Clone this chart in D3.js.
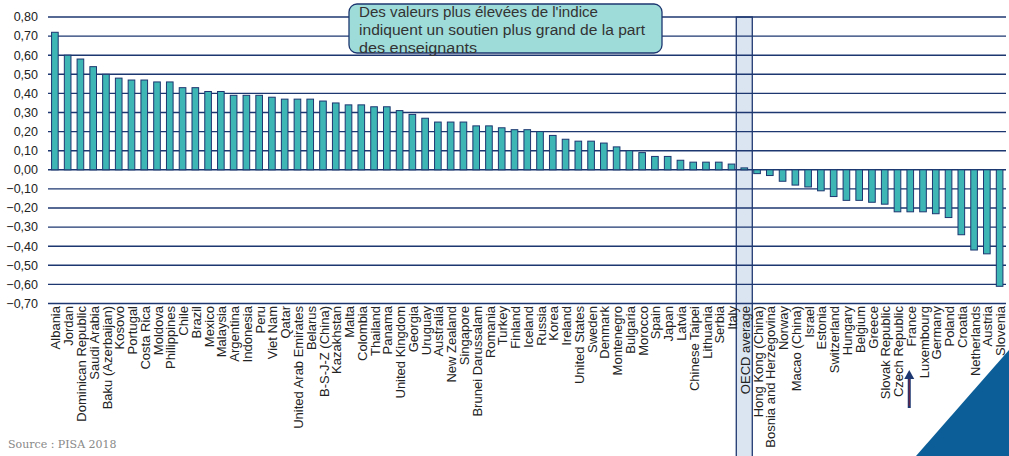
<!DOCTYPE html>
<html><head><meta charset="utf-8">
<script src="https://cdn.jsdelivr.net/npm/d3@7"></script>
<style>body{margin:0;background:#fff}svg{display:block}</style>
</head><body>
<svg id="c" width="1009" height="456"></svg>
<script>
const categories = ["Albania","Jordan","Dominican Republic","Saudi Arabia","Baku (Azerbaijan)","Kosovo","Portugal","Costa Rica","Moldova","Philippines","Chile","Brazil","Mexico","Malaysia","Argentina","Indonesia","Peru","Viet Nam","Qatar","United Arab Emirates","Belarus","B-S-J-Z (China)","Kazakhstan","Malta","Colombia","Thailand","Panama","United Kingdom","Georgia","Uruguay","Australia","New Zealand","Singapore","Brunei Darussalam","Romania","Turkey","Finland","Iceland","Russia","Korea","Ireland","United States","Sweden","Denmark","Montenegro","Bulgaria","Morocco","Spain","Japan","Latvia","Chinese Taipei","Lithuania","Serbia","Italy","OECD average","Hong Kong (China)","Bosnia and Herzegovina","Norway","Macao (China)","Israel","Estonia","Switzerland","Hungary","Belgium","Greece","Slovak Republic","Czech Republic","France","Luxembourg","Germany","Poland","Croatia","Netherlands","Austria","Slovenia"];
const values = [0.72,0.60,0.58,0.54,0.50,0.48,0.47,0.47,0.46,0.46,0.43,0.43,0.41,0.41,0.39,0.39,0.39,0.38,0.37,0.37,0.37,0.36,0.35,0.34,0.34,0.33,0.33,0.31,0.29,0.27,0.25,0.25,0.25,0.23,0.23,0.22,0.21,0.21,0.20,0.18,0.16,0.15,0.15,0.14,0.12,0.10,0.09,0.07,0.07,0.05,0.04,0.04,0.04,0.03,0.01,-0.02,-0.03,-0.06,-0.08,-0.09,-0.11,-0.14,-0.16,-0.16,-0.17,-0.18,-0.22,-0.22,-0.22,-0.23,-0.25,-0.34,-0.42,-0.44,-0.61];
const yTicks = [0.8,0.7,0.6,0.5,0.4,0.3,0.2,0.1,0,-0.1,-0.2,-0.3,-0.4,-0.5,-0.6,-0.7];
const noteLines = ["Des valeurs plus élevées de l'indice","indiquent un soutien plus grand de la part","des enseignants"];
const highlight = "OECD average";
const arrowAt = "France";
const sourceText = "Source : PISA 2018";

const svg = d3.select("#c");
const navy = "#1d3770";
const x = d3.scaleBand().domain(categories).range([48.5, 1006]).paddingInner(0.48).paddingOuter(0.24);
const y = d3.scaleLinear().domain([-0.7, 0.8]).range([303.5, 17]);

// OECD highlight column
const hx = x(highlight) + x.bandwidth()/2;
svg.append("rect").attr("x", hx - 8).attr("y", y(0.8)).attr("width", 16).attr("height", 456 - y(0.8) + 2)
  .attr("fill", "#dbe5f1").attr("stroke", navy).attr("stroke-width", 1.3);

// gridlines
svg.append("g").selectAll("line").data(yTicks).join("line")
  .attr("x1", 48).attr("x2", 1006).attr("y1", d => y(d)).attr("y2", d => y(d))
  .attr("stroke", navy).attr("stroke-width", 1.4);

// y axis labels
const fmt = d3.format(".2f");
svg.append("g").selectAll("text").data(yTicks).join("text")
  .attr("x", 38).attr("y", d => y(d)).attr("dy", "0.35em").attr("text-anchor", "end")
  .attr("font-family", "Liberation Sans, Arial, sans-serif").attr("font-size", 12.5).attr("fill", "#222")
  .text(d => fmt(d).replace(".", ","));

// bars
svg.append("g").selectAll("rect").data(categories).join("rect")
  .attr("x", d => x(d)).attr("width", x.bandwidth())
  .attr("y", (d,i) => y(Math.max(0, values[i])))
  .attr("height", (d,i) => Math.abs(y(values[i]) - y(0)))
  .attr("fill", "#3db6b5").attr("stroke", navy).attr("stroke-width", 1);

// category labels
svg.append("g").selectAll("text").data(categories).join("text")
  .attr("transform", d => `translate(${x(d) + x.bandwidth()/2 + 1},306) rotate(-90)`)
  .attr("dy", "0.35em").attr("text-anchor", "end")
  .attr("font-family", "Liberation Sans, Arial, sans-serif").attr("font-size", 13).attr("fill", "#222")
  .text(d => d);

// note box
const note = svg.append("g");
note.append("rect").attr("x", 349).attr("y", 4).attr("width", 313).attr("height", 49).attr("rx", 8)
  .attr("fill", "#9edcda").attr("stroke", navy).attr("stroke-width", 1.3);
note.selectAll("text").data(noteLines).join("text")
  .attr("x", 359).attr("y", (d,i) => 17 + i*18)
  .attr("font-family", "Liberation Sans, Arial, sans-serif").attr("font-size", 14).attr("fill", "#333")
  .attr("textLength", (d,i) => [239, 286, 118][i]).attr("lengthAdjust", "spacingAndGlyphs")
  .text(d => d);

// arrow under France
const ax = x(arrowAt) + x.bandwidth()/2 - 1;
svg.append("line").attr("x1", ax).attr("x2", ax).attr("y1", 408).attr("y2", 377)
  .attr("stroke", navy).attr("stroke-width", 3);
svg.append("path").attr("d", `M${ax-5},379 L${ax},370 L${ax+5},379 Z`).attr("fill", navy);
svg.append("line").attr("x1", ax).attr("x2", ax).attr("y1", 406).attr("y2", 379)
  .attr("stroke", "#7a1f3d").attr("stroke-width", 1);

// corner triangle
svg.append("path").attr("d", "M1009,350 L1009,456 L916,456 Z").attr("fill", "#0b5e97");

// source
svg.append("text").attr("x", 8).attr("y", 448)
  .attr("font-family", "DejaVu Serif, Liberation Serif, serif").attr("font-size", 11).attr("fill", "#888")
  .text(sourceText);
</script>
</body></html>
